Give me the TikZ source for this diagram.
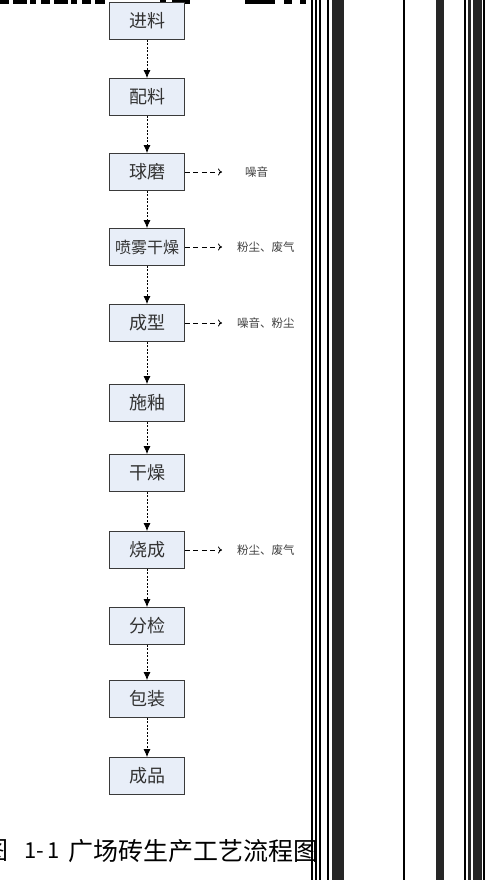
\documentclass[tikz,border=0pt]{standalone}
\usepackage{fontspec}
\newfontfamily\cjk{Noto Sans CJK SC}
\usetikzlibrary{arrows.meta}
\definecolor{boxfill}{HTML}{E8EEF8}
\definecolor{boxline}{HTML}{3A3A3A}
\definecolor{txt}{HTML}{333333}
\tikzset{
  stepbox/.style={rectangle, minimum width=75pt, minimum height=37pt, fill=boxfill, draw=boxline, line width=0.8pt, font=\cjk\fontsize{18}{18}\selectfont, text=txt, inner sep=0pt},
  flow/.style={dashed, dash pattern=on 2pt off 1.5pt, line width=0.8pt, -{Latex[length=8pt,width=7pt]}},
  emit/.style={dashed, dash pattern=on 5pt off 3.5pt, line width=0.8pt, -{To[length=4pt,width=7pt]}},
  emtext/.style={anchor=west, font=\cjk\fontsize{11.5}{11.5}\selectfont, text=black!75, inner sep=0pt},
  captext/.style={inner sep=0pt, font=\cjk\fontsize{25}{25}\selectfont, text=black},
  vline/.style={line width=1.2pt, black},
  vband/.style={line width=#1, black!85}
}
\begin{document}
\begin{tikzpicture}[x=1pt,y=-1pt]
\useasboundingbox (0,0) rectangle (489,880);
\fill[white] (0,0) rectangle (489,880);
% scan artifacts
\draw[line width=4pt, black, dash pattern=on 9pt off 4pt on 14pt off 3pt on 6pt off 5pt] (0,2) -- (105,2);
\draw[line width=4pt, black, dash pattern=on 6pt off 6pt on 18pt off 10pt] (160,2) -- (200,2);
\draw[line width=4pt, black] (245,2) -- (275,2);
\draw[line width=4pt, black] (284,2) -- (292,2);
\draw[line width=4pt, black] (300,2) -- (306,2);
\draw[vline] (312,0) -- (312,880);
\draw[vline] (316,0) -- (316,880);
\draw[vline] (320,0) -- (320,880);
\draw[vline] (328,0) -- (328,880);
\draw[vband=12pt] (338,0) -- (338,880);
\draw[vline] (404,0) -- (404,880);
\draw[vband=8pt] (440,0) -- (440,880);
\draw[vline] (465,0) -- (465,880);
\draw[vband=3pt] (469,0) -- (469,880);
\draw[vband=9pt] (477,0) -- (477,880);
\draw[vline] (484,0) -- (484,880);
% process boxes
\node[stepbox] (s1) at (147,21) {进料};
\node[stepbox] (s2) at (147,97) {配料};
\node[stepbox] (s3) at (147,172) {球磨};
\node[stepbox, font=\cjk\fontsize{16}{16}\selectfont] (s4) at (147,247) {喷雾干燥};
\node[stepbox] (s5) at (147,323) {成型};
\node[stepbox] (s6) at (147,403) {施釉};
\node[stepbox] (s7) at (147,473) {干燥};
\node[stepbox] (s8) at (147,550) {烧成};
\node[stepbox] (s9) at (147,626) {分检};
\node[stepbox] (s10) at (147,699) {包装};
\node[stepbox] (s11) at (147,776) {成品};
\foreach \a/\b in {s1/s2,s2/s3,s3/s4,s4/s5,s5/s6,s6/s7,s7/s8,s8/s9,s9/s10,s10/s11}
  \draw[flow] (\a) -- (\b);
% emissions
\node[emtext] (e3) at (245,172) {噪音};
\node[emtext] (e4) at (237,247) {粉尘、废气};
\node[emtext] (e5) at (237,323) {噪音、粉尘};
\node[emtext] (e8) at (237,550) {粉尘、废气};
\foreach \a/\b in {s3/e3,s4/e4,s5/e5,s8/e8}
  \draw[emit] (\a.east) -- (222,0 |- \a.east);
% caption
\node[captext, anchor=east] (capa) at (9,851) {图};
\node[captext, anchor=west, font=\cjk\fontsize{22}{22}\selectfont] (capb) at (24,851) {1-\,1};
\node[captext, anchor=west] (capc) at (68,851) {广场砖生产工艺流程图};
\end{tikzpicture}
\end{document}
